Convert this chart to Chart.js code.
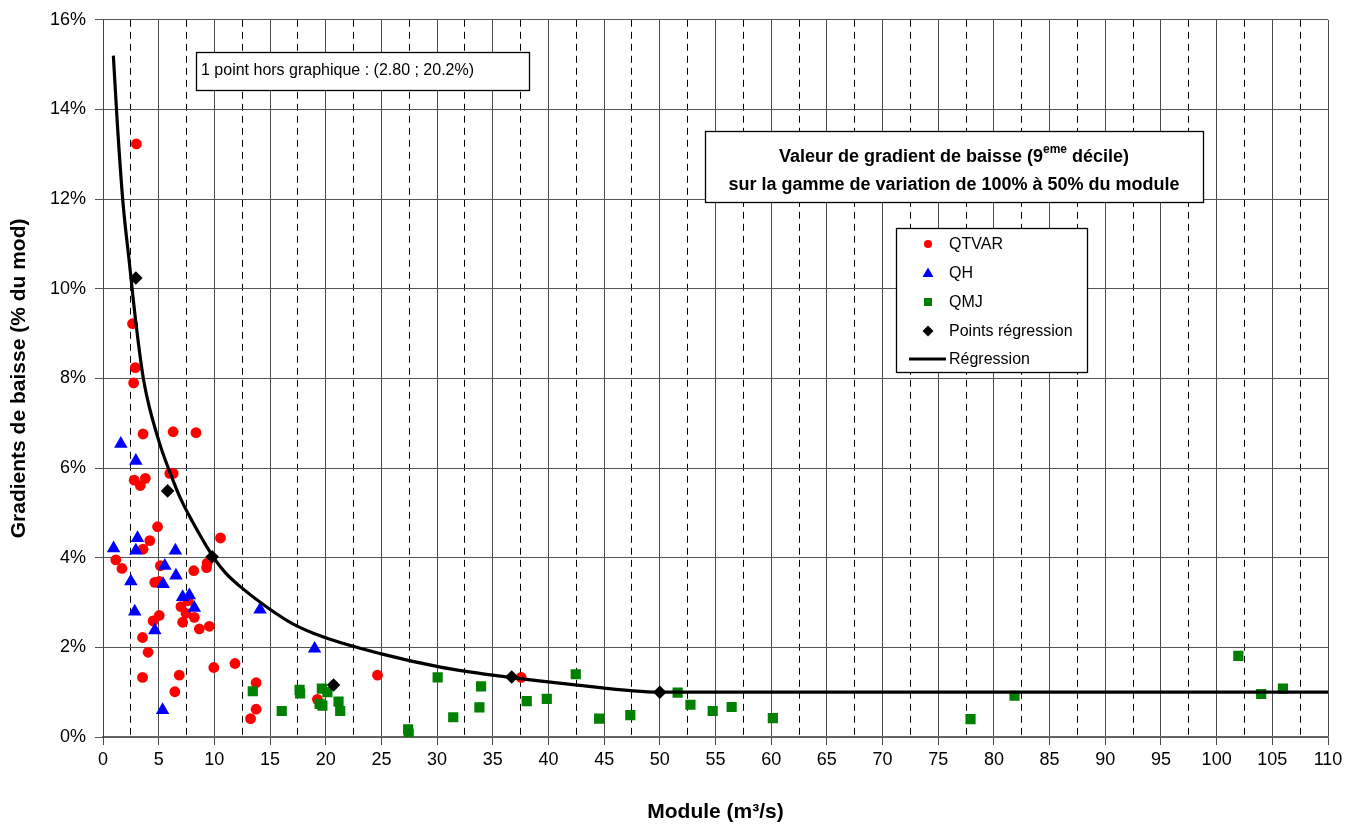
<!DOCTYPE html>
<html>
<head>
<meta charset="utf-8">
<script src="https://cdn.jsdelivr.net/npm/chart.js@4/dist/chart.umd.min.js"></script>
<style>
  html, body { margin: 0; padding: 0; background: #fff; }
  #wrap { width: 1350px; height: 833px; }
</style>
</head>
<body>
<div id="wrap"><canvas id="myChart" width="1350" height="833"></canvas></div>
<script>
// series read point by point (module m3/s ; gradient %)
let qtvarX = [3.0, 2.65, 2.9, 2.75, 3.6, 6.3, 8.35, 6.0, 6.3, 2.8, 3.8, 3.35, 4.9, 10.55, 4.2, 3.6, 1.15, 1.7, 9.35, 9.3,
  5.15, 4.65, 5.05, 8.15, 7.65, 7.0, 7.45, 8.2, 7.15, 8.65, 9.55, 5.05, 4.5, 3.55, 4.05, 3.55, 6.85, 6.45, 9.95, 11.85,
  13.75, 13.75, 13.25, 19.25, 24.65, 37.55];
let qtvarY = [13.23, 9.22, 8.24, 7.9, 6.76, 6.81, 6.79, 5.88, 5.88, 5.73, 5.77, 5.61, 4.69, 4.44, 4.38, 4.19, 3.95, 3.76, 3.88, 3.78,
  3.82, 3.45, 3.47, 3.71, 3.04, 2.91, 2.76, 2.67, 2.56, 2.41, 2.47, 2.71, 2.59, 2.22, 1.89, 1.33, 1.38, 1.01, 1.55, 1.64,
  1.21, 0.62, 0.41, 0.84, 1.38, 1.33];

let qhX = [1.6, 2.95, 0.95, 3.1, 2.95, 6.5, 5.55, 6.55, 2.5, 5.4, 7.15, 7.75, 8.2, 2.85, 4.65, 5.35, 14.1, 19.0];
let qhY = [6.54, 6.16, 4.21, 4.44, 4.16, 4.16, 3.82, 3.6, 3.47, 3.41, 3.12, 3.16, 2.88, 2.8, 2.38, 0.6, 2.84, 1.97];

let qmjX = [13.45, 16.05, 17.65, 17.7, 19.65, 20.15, 19.45, 19.7, 21.15, 21.3, 27.4, 27.45, 30.05, 31.45, 33.95, 33.8,
  38.05, 39.85, 42.45, 44.55, 47.35, 51.6, 52.75, 54.75, 56.45, 60.15, 77.9, 81.85, 101.95, 104.0, 105.95];
let qmjY = [1.02, 0.58, 1.05, 0.97, 1.08, 1.0, 0.74, 0.7, 0.79, 0.58, 0.17, 0.07, 1.33, 0.44, 1.13, 0.66,
  0.8, 0.85, 1.4, 0.41, 0.49, 0.99, 0.72, 0.58, 0.67, 0.42, 0.4, 0.92, 1.81, 0.96, 1.08];

let regPtX = [2.95, 5.8, 9.8, 20.7, 36.7, 50.0];
let regPtY = [10.24, 5.49, 4.02, 1.16, 1.34, 1.0];

// regression curve, traced along its length
let curveX = [0.93, 1.28, 1.79, 2.36, 2.94, 3.67, 5.02, 6.08, 7.0, 8.0, 9.94, 11.0, 12.3, 14.7, 17.0, 19.8,
  24.9, 30.3, 35.0, 42.2, 50.0, 110];
let curveY = [15.2, 13.71, 11.93, 10.6, 9.27, 7.93, 6.6, 5.86, 5.3, 4.82, 4.0, 3.66, 3.36, 2.9, 2.53, 2.23,
  1.86, 1.56, 1.38, 1.17, 1.0, 1.0];

let yTicks = [0, 2, 4, 6, 8, 10, 12, 14, 16];
let seriesNames = ["QTVAR", "QH", "QMJ", "Points régression", "Régression"];

function toPoints(xs, ys) {
  return xs.map((x, i) => ({ x: x, y: ys[i] }));
}

const FONT = "'Liberation Sans', Arial, sans-serif";

function isMajor(v) {
  return Math.abs(v / 5 - Math.round(v / 5)) < 1e-6;
}

// boxes drawn over the plot: note, title, legend
const boxes = {
  id: 'boxes',
  afterDraw(chart) {
    let c = chart.ctx;
    c.save();

    // note about the point off the chart
    c.fillStyle = '#fff';
    c.fillRect(196, 52, 333, 38);
    c.strokeStyle = '#000';
    c.lineWidth = 1.3;
    c.strokeRect(196.5, 52.5, 333, 38);
    c.fillStyle = '#000';
    c.font = '16px ' + FONT;
    c.textBaseline = 'middle';
    c.textAlign = 'left';
    c.fillText('1 point hors graphique : (2.80 ; 20.2%)', 201, 71);

    // title box
    c.fillStyle = '#fff';
    c.fillRect(705, 131, 498, 71);
    c.strokeRect(705.5, 131.5, 498, 71);
    c.fillStyle = '#000';
    let bold = 'bold 18px ' + FONT;
    let sup = 'bold 12px ' + FONT;
    let cx = 954;
    let a = 'Valeur de gradient de baisse (9', s = 'eme', b = ' décile)';
    c.font = bold;
    let wa = c.measureText(a).width, wb = c.measureText(b).width;
    c.font = sup;
    let ws = c.measureText(s).width;
    let x0 = cx - (wa + ws + wb) / 2;
    c.textBaseline = 'alphabetic';
    c.font = bold;
    c.fillText(a, x0, 162);
    c.font = sup;
    c.fillText(s, x0 + wa, 153);
    c.font = bold;
    c.fillText(b, x0 + wa + ws, 162);
    c.textAlign = 'center';
    c.fillText('sur la gamme de variation de 100% à 50% du module', cx, 190);

    // legend
    c.fillStyle = '#fff';
    c.fillRect(896, 228, 191, 144);
    c.strokeStyle = '#000';
    c.lineWidth = 1.3;
    c.strokeRect(896.5, 228.5, 191, 144);
    c.font = '16px ' + FONT;
    c.textAlign = 'left';
    c.textBaseline = 'middle';
    let rows = [244, 273, 302, 331, 359];
    chart.data.datasets.forEach((ds, i) => {
      let y = rows[i], mx = 928;
      c.fillStyle = ds.backgroundColor;
      c.strokeStyle = ds.borderColor;
      c.beginPath();
      if (ds.pointStyle === 'circle') {
        c.arc(mx, y, 4, 0, Math.PI * 2);
        c.fill();
      } else if (ds.pointStyle === 'triangle') {
        c.moveTo(mx, y - 5.5); c.lineTo(mx + 5.5, y + 4); c.lineTo(mx - 5.5, y + 4);
        c.closePath(); c.fill();
      } else if (ds.pointStyle === 'rect') {
        c.fillRect(mx - 4, y - 4, 8, 8);
      } else if (ds.pointStyle === 'rectRot') {
        c.moveTo(mx, y - 5.5); c.lineTo(mx + 5.5, y); c.lineTo(mx, y + 5.5); c.lineTo(mx - 5.5, y);
        c.closePath(); c.fill();
      } else {
        c.lineWidth = 3;
        c.moveTo(909, y); c.lineTo(946, y);
        c.stroke();
      }
      c.fillStyle = '#000';
      c.fillText(ds.label, 949, y + 1);
    });
    c.restore();
  }
};

let ctx = document.getElementById('myChart').getContext('2d');

let myChart = new Chart(ctx, {
  type: 'scatter',
  data: {
    datasets: [
      {
        label: seriesNames[0], data: toPoints(qtvarX, qtvarY),
        pointStyle: 'circle', pointRadius: 5.4, backgroundColor: '#ff0000', borderColor: '#ff0000', borderWidth: 0, order: 4
      },
      {
        label: seriesNames[1], data: toPoints(qhX, qhY),
        pointStyle: 'triangle', pointRadius: 7.8, backgroundColor: '#0000ff', borderColor: '#0000ff', borderWidth: 0, order: 3
      },
      {
        label: seriesNames[2], data: toPoints(qmjX, qmjY),
        pointStyle: 'rect', pointRadius: 7.2, backgroundColor: '#008000', borderColor: '#008000', borderWidth: 0, order: 2
      },
      {
        label: seriesNames[3], data: toPoints(regPtX, regPtY),
        pointStyle: 'rectRot', pointRadius: 6.8, backgroundColor: '#000', borderColor: '#000', borderWidth: 0, order: 1
      },
      {
        label: seriesNames[4], data: toPoints(curveX, curveY),
        showLine: true, pointRadius: 0, borderColor: '#000', backgroundColor: '#000', borderWidth: 3.2,
        cubicInterpolationMode: 'monotone', pointStyle: 'line', order: 0
      }
    ]
  },
  options: {
    responsive: false,
    animation: false,
    devicePixelRatio: 1,
    layout: { padding: { top: 17, right: 22, left: 0, bottom: 0 } },
    plugins: {
      legend: { display: false },
      tooltip: { enabled: false }
    },
    scales: {
      x: {
        type: 'linear',
        min: 0, max: 110,
        afterFit: s => { s.height = 96; },
        ticks: {
          stepSize: 2.5,
          autoSkip: false,
          maxRotation: 0,
          padding: 4,
          color: '#000',
          font: { family: FONT, size: 18 },
          callback: v => isMajor(v) ? String(v) : ''
        },
        grid: {
          color: c => isMajor(c.tick.value) ? '#4a4a4a' : '#000',
          lineWidth: 1,
          tickLength: 8,
          tickColor: c => isMajor(c.tick.value) ? '#4a4a4a' : 'rgba(0,0,0,0)'
        },
        border: {
          color: '#666',
          width: 1.5,
          dash: c => (c.tick && !isMajor(c.tick.value)) ? [7, 5] : []
        },
        title: {
          display: true,
          text: 'Module (m³/s)',
          color: '#000',
          font: { family: FONT, size: 21, weight: 'bold' },
          padding: { top: 0, bottom: 8 }
        }
      },
      y: {
        type: 'linear',
        min: 0, max: 16,
        afterFit: s => { s.width = 103; },
        afterBuildTicks: s => { s.ticks = yTicks.map(v => ({ value: v })); },
        ticks: {
          padding: 9,
          color: '#000',
          font: { family: FONT, size: 18 },
          callback: v => v + '%'
        },
        grid: { color: '#555', lineWidth: 1, tickLength: 8, tickColor: '#555' },
        border: { color: '#444', width: 1 },
        title: {
          display: true,
          text: 'Gradients de baisse (% du mod)',
          color: '#000',
          font: { family: FONT, size: 21, weight: 'bold' },
          padding: { top: 7, bottom: 0 }
        }
      }
    }
  },
  plugins: [boxes]
});
</script>
</body>
</html>
